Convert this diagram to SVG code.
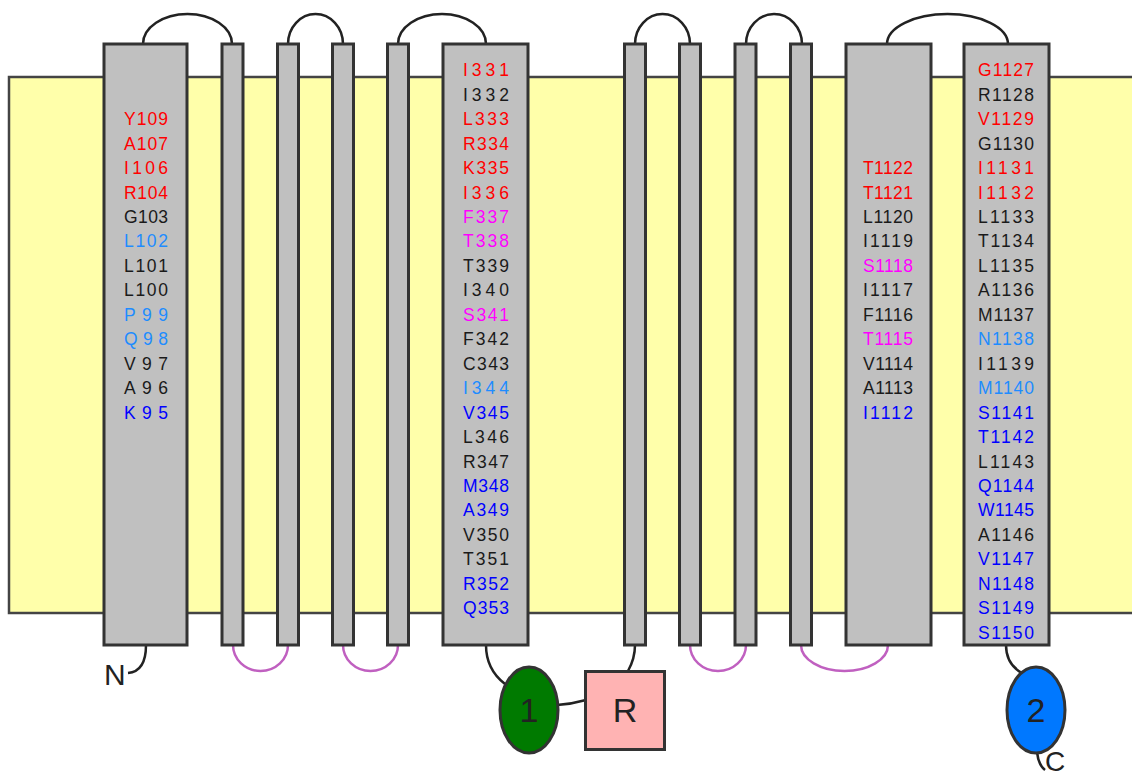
<svg xmlns="http://www.w3.org/2000/svg" width="1132" height="778" viewBox="0 0 1132 778">
<style>
.mem{fill:#ffffaa;stroke:#444;stroke-width:2.5}
.hx{fill:#c0c0c0;stroke:#333;stroke-width:3}
.lp{fill:none;stroke:#222;stroke-width:2.5}
.pl{fill:none;stroke:#c060c0;stroke-width:2.5}
text{font-family:"Liberation Sans",Arial,sans-serif}
.r{font-size:17.5px;text-anchor:middle}
.k{fill:#1a1a1a}.rd{fill:#ff0000}.lb{fill:#1e8cff}.bl{fill:#0000ff}.mg{fill:#ff00ff}
.big{font-size:34px;text-anchor:middle;fill:#222}
.term{font-size:30px;fill:#222}
</style>
<rect id="membrane" class="mem" x="9" y="77" width="1130" height="536"/>
<g id="connectors">
<path class="lp" d="M143,44 A44.5,30 0 0 1 232,44"/>
<path class="lp" d="M288,44 A27.5,30 0 0 1 343,44"/>
<path class="lp" d="M398,44 A44,30 0 0 1 486,44"/>
<path class="lp" d="M635,44 A27.5,30 0 0 1 690,44"/>
<path class="lp" d="M746,44 A28,30 0 0 1 802,44"/>
<path class="lp" d="M887,44 A60.5,30 0 0 1 1008,44"/>
<path class="pl" d="M233,645 A27.5,26 0 0 0 288,645"/>
<path class="pl" d="M343,645 A27.5,26 0 0 0 398,645"/>
<path class="pl" d="M690,645 A28,26 0 0 0 746,645"/>
<path class="pl" d="M801,645 A43.5,26 0 0 0 888,645"/>
<path class="lp" d="M146,645 C146,662 140,672 128,673"/>
<path class="lp" d="M486,645 C486,660 492,674 505,684"/>
<path class="lp" d="M557,705 Q572,704 586,700"/>
<path class="lp" d="M628,671 C633,662 635,655 635,645"/>
<path class="lp" d="M1006,645 C1006,660 1013,668 1022,673"/>
<path class="lp" d="M1037,752 C1038,761 1041,767 1045,770"/>
</g>
<g id="h1"><rect class="hx" x="104" y="44" width="83" height="601"/>
<g class="r">
<text class="rd" x="146" y="125.2" textLength="44" lengthAdjust="spacing">Y109</text>
<text class="rd" x="146" y="149.65" textLength="44" lengthAdjust="spacing">A107</text>
<text class="rd" x="146" y="174.1" textLength="44" lengthAdjust="spacing">I106</text>
<text class="rd" x="146" y="198.55" textLength="44" lengthAdjust="spacing">R104</text>
<text class="k" x="146" y="223" textLength="44" lengthAdjust="spacing">G103</text>
<text class="lb" x="146" y="247.45" textLength="44" lengthAdjust="spacing">L102</text>
<text class="k" x="146" y="271.9" textLength="44" lengthAdjust="spacing">L101</text>
<text class="k" x="146" y="296.35" textLength="44" lengthAdjust="spacing">L100</text>
<text class="lb" x="146" y="320.8" textLength="44" lengthAdjust="spacing">P99</text>
<text class="lb" x="146" y="345.25" textLength="44" lengthAdjust="spacing">Q98</text>
<text class="k" x="146" y="369.7" textLength="44" lengthAdjust="spacing">V97</text>
<text class="k" x="146" y="394.15" textLength="44" lengthAdjust="spacing">A96</text>
<text class="bl" x="146" y="418.6" textLength="44" lengthAdjust="spacing">K95</text>
</g></g>
<g id="h2"><rect class="hx" x="222" y="44" width="21" height="601"/></g>
<g id="h3"><rect class="hx" x="277.5" y="44" width="21" height="601"/></g>
<g id="h4"><rect class="hx" x="332.5" y="44" width="21" height="601"/></g>
<g id="h5"><rect class="hx" x="387.5" y="44" width="21" height="601"/></g>
<g id="h6"><rect class="hx" x="443" y="44" width="85" height="601"/>
<g class="r">
<text class="rd" x="486" y="76.3" textLength="46" lengthAdjust="spacing">I331</text>
<text class="k" x="486" y="100.75" textLength="46" lengthAdjust="spacing">I332</text>
<text class="rd" x="486" y="125.2" textLength="46" lengthAdjust="spacing">L333</text>
<text class="rd" x="486" y="149.65" textLength="46" lengthAdjust="spacing">R334</text>
<text class="rd" x="486" y="174.1" textLength="46" lengthAdjust="spacing">K335</text>
<text class="rd" x="486" y="198.55" textLength="46" lengthAdjust="spacing">I336</text>
<text class="mg" x="486" y="223" textLength="46" lengthAdjust="spacing">F337</text>
<text class="mg" x="486" y="247.45" textLength="46" lengthAdjust="spacing">T338</text>
<text class="k" x="486" y="271.9" textLength="46" lengthAdjust="spacing">T339</text>
<text class="k" x="486" y="296.35" textLength="46" lengthAdjust="spacing">I340</text>
<text class="mg" x="486" y="320.8" textLength="46" lengthAdjust="spacing">S341</text>
<text class="k" x="486" y="345.25" textLength="46" lengthAdjust="spacing">F342</text>
<text class="k" x="486" y="369.7" textLength="46" lengthAdjust="spacing">C343</text>
<text class="lb" x="486" y="394.15" textLength="46" lengthAdjust="spacing">I344</text>
<text class="bl" x="486" y="418.6" textLength="46" lengthAdjust="spacing">V345</text>
<text class="k" x="486" y="443.05" textLength="46" lengthAdjust="spacing">L346</text>
<text class="k" x="486" y="467.5" textLength="46" lengthAdjust="spacing">R347</text>
<text class="bl" x="486" y="491.95" textLength="46" lengthAdjust="spacing">M348</text>
<text class="bl" x="486" y="516.4" textLength="46" lengthAdjust="spacing">A349</text>
<text class="k" x="486" y="540.85" textLength="46" lengthAdjust="spacing">V350</text>
<text class="k" x="486" y="565.3" textLength="46" lengthAdjust="spacing">T351</text>
<text class="bl" x="486" y="589.75" textLength="46" lengthAdjust="spacing">R352</text>
<text class="bl" x="486" y="614.2" textLength="46" lengthAdjust="spacing">Q353</text>
</g></g>
<g id="h7"><rect class="hx" x="624.5" y="44" width="21" height="601"/></g>
<g id="h8"><rect class="hx" x="679.5" y="44" width="21" height="601"/></g>
<g id="h9"><rect class="hx" x="735" y="44" width="21" height="601"/></g>
<g id="h10"><rect class="hx" x="790.5" y="44" width="21" height="601"/></g>
<g id="h11"><rect class="hx" x="846" y="44" width="85" height="601"/>
<g class="r">
<text class="rd" x="888" y="174.1" textLength="50" lengthAdjust="spacing">T1122</text>
<text class="rd" x="888" y="198.55" textLength="50" lengthAdjust="spacing">T1121</text>
<text class="k" x="888" y="223" textLength="50" lengthAdjust="spacing">L1120</text>
<text class="k" x="888" y="247.45" textLength="50" lengthAdjust="spacing">I1119</text>
<text class="mg" x="888" y="271.9" textLength="50" lengthAdjust="spacing">S1118</text>
<text class="k" x="888" y="296.35" textLength="50" lengthAdjust="spacing">I1117</text>
<text class="k" x="888" y="320.8" textLength="50" lengthAdjust="spacing">F1116</text>
<text class="mg" x="888" y="345.25" textLength="50" lengthAdjust="spacing">T1115</text>
<text class="k" x="888" y="369.7" textLength="50" lengthAdjust="spacing">V1114</text>
<text class="k" x="888" y="394.15" textLength="50" lengthAdjust="spacing">A1113</text>
<text class="bl" x="888" y="418.6" textLength="50" lengthAdjust="spacing">I1112</text>
</g></g>
<g id="h12"><rect class="hx" x="964" y="44" width="85" height="601"/>
<g class="r">
<text class="rd" x="1006" y="76.3" textLength="56" lengthAdjust="spacing">G1127</text>
<text class="k" x="1006" y="100.75" textLength="56" lengthAdjust="spacing">R1128</text>
<text class="rd" x="1006" y="125.2" textLength="56" lengthAdjust="spacing">V1129</text>
<text class="k" x="1006" y="149.65" textLength="56" lengthAdjust="spacing">G1130</text>
<text class="rd" x="1006" y="174.1" textLength="56" lengthAdjust="spacing">I1131</text>
<text class="rd" x="1006" y="198.55" textLength="56" lengthAdjust="spacing">I1132</text>
<text class="k" x="1006" y="223" textLength="56" lengthAdjust="spacing">L1133</text>
<text class="k" x="1006" y="247.45" textLength="56" lengthAdjust="spacing">T1134</text>
<text class="k" x="1006" y="271.9" textLength="56" lengthAdjust="spacing">L1135</text>
<text class="k" x="1006" y="296.35" textLength="56" lengthAdjust="spacing">A1136</text>
<text class="k" x="1006" y="320.8" textLength="56" lengthAdjust="spacing">M1137</text>
<text class="lb" x="1006" y="345.25" textLength="56" lengthAdjust="spacing">N1138</text>
<text class="k" x="1006" y="369.7" textLength="56" lengthAdjust="spacing">I1139</text>
<text class="lb" x="1006" y="394.15" textLength="56" lengthAdjust="spacing">M1140</text>
<text class="bl" x="1006" y="418.6" textLength="56" lengthAdjust="spacing">S1141</text>
<text class="bl" x="1006" y="443.05" textLength="56" lengthAdjust="spacing">T1142</text>
<text class="k" x="1006" y="467.5" textLength="56" lengthAdjust="spacing">L1143</text>
<text class="bl" x="1006" y="491.95" textLength="56" lengthAdjust="spacing">Q1144</text>
<text class="bl" x="1006" y="516.4" textLength="56" lengthAdjust="spacing">W1145</text>
<text class="k" x="1006" y="540.85" textLength="56" lengthAdjust="spacing">A1146</text>
<text class="bl" x="1006" y="565.3" textLength="56" lengthAdjust="spacing">V1147</text>
<text class="bl" x="1006" y="589.75" textLength="56" lengthAdjust="spacing">N1148</text>
<text class="bl" x="1006" y="614.2" textLength="56" lengthAdjust="spacing">S1149</text>
<text class="bl" x="1006" y="638.65" textLength="56" lengthAdjust="spacing">S1150</text>
</g></g>
<g id="dom1"><ellipse cx="529" cy="710" rx="29" ry="43" fill="#007a00" stroke="#333" stroke-width="3"/><text class="big" x="529" y="722">1</text></g>
<g id="domR"><rect x="585.5" y="671.5" width="79" height="78" fill="#ffb3b3" stroke="#333" stroke-width="3"/><text class="big" x="625" y="722">R</text></g>
<g id="dom2"><ellipse cx="1036" cy="710" rx="29" ry="43" fill="#0078ff" stroke="#333" stroke-width="3"/><text class="big" x="1036" y="722">2</text></g>
<g id="nterm"><text class="term" x="104" y="685">N</text></g>
<g id="cterm"><text class="term" x="1045" y="771" style="font-size:28px">C</text></g>
</svg>
